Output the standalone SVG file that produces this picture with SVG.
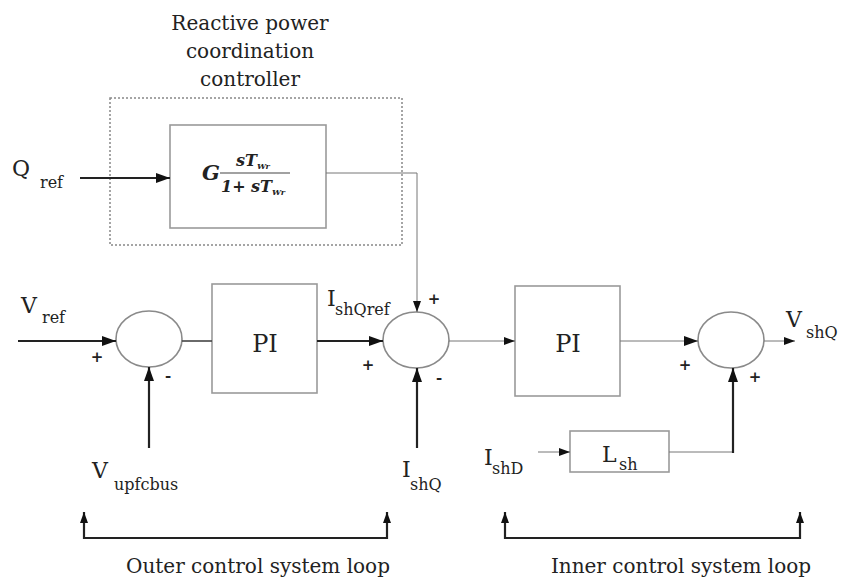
<svg xmlns="http://www.w3.org/2000/svg" width="843" height="581" viewBox="0 0 843 581">
<style>
text{fill:#222;font-family:"DejaVu Serif",serif}
.t{font-size:20px}
.main{font-size:22px}
.sub{font-size:16px}
.pi{font-size:24px;text-anchor:middle}
.sign{font-size:15px;text-anchor:middle;dominant-baseline:central;font-weight:bold}
.box{fill:#fff;stroke:#9a9a9a;stroke-width:1.6}
.sum{fill:#fff;stroke:#8a8a8a;stroke-width:1.6}
.dash{fill:none;stroke:#888;stroke-width:1.5;stroke-dasharray:2 2}
.thick{fill:none;stroke:#222;stroke-width:2.2}
.med{fill:none;stroke:#444;stroke-width:1.6}
.thin{fill:none;stroke:#777;stroke-width:1}
.eq{font-style:italic;font-weight:bold}
</style>
<defs>
<marker id="ah" markerUnits="userSpaceOnUse" markerWidth="14" markerHeight="10" refX="14" refY="5" orient="auto">
<path d="M0,0 L14,5 L0,10 z" fill="#111"/>
</marker>
<marker id="ahs" markerUnits="userSpaceOnUse" markerWidth="11" markerHeight="8" refX="11" refY="4" orient="auto">
<path d="M0,0 L11,4 L0,8 z" fill="#111"/>
</marker>
</defs>
<rect width="843" height="581" fill="#fff"/>

<g id="title">
<text class="t" x="250" y="30" text-anchor="middle">Reactive power</text>
<text class="t" x="250" y="58" text-anchor="middle">coordination</text>
<text class="t" x="250" y="86" text-anchor="middle">controller</text>
</g>

<g id="coordination-controller">
<rect class="dash" x="110" y="98" width="292" height="147"/>
<rect class="box" x="170" y="125" width="156" height="103"/>
<text class="eq" x="202" y="180" font-size="21">G</text>
<line x1="220" y1="173" x2="290" y2="173" stroke="#444" stroke-width="1.2"/>
<text class="eq" x="236" y="166" font-size="16">sT<tspan font-size="8" dy="3">Wr</tspan></text>
<text class="eq" x="221" y="192" font-size="16">1+ sT<tspan font-size="8" dy="3">Wr</tspan></text>
</g>

<g id="sum1"><ellipse class="sum" cx="149" cy="339" rx="33" ry="28"/></g>
<g id="pi1"><rect class="box" x="212" y="284" width="105" height="109"/><text class="pi" x="265" y="352">PI</text></g>
<g id="sum2"><ellipse class="sum" cx="416" cy="340" rx="33" ry="28"/></g>
<g id="pi2"><rect class="box" x="515" y="286" width="105" height="110"/><text class="pi" x="568" y="352">PI</text></g>
<g id="sum3"><ellipse class="sum" cx="731" cy="340" rx="33" ry="28"/></g>
<g id="lsh"><rect class="box" x="570" y="431" width="99" height="41"/><text class="main" x="602" y="462">L<tspan class="sub" x="619" y="470">sh</tspan></text></g>

<g id="connectors">
<line class="thick" x1="80" y1="178" x2="170" y2="178" marker-end="url(#ah)"/>
<polyline class="thin" points="326,173 417,173 417,312" marker-end="url(#ahs)"/>
<line class="thick" x1="18" y1="341" x2="116" y2="341" marker-end="url(#ah)"/>
<line class="thick" x1="149" y1="448" x2="149" y2="367" marker-end="url(#ah)"/>
<line class="med" x1="182" y1="341" x2="212" y2="341"/>
<line class="thick" x1="317" y1="341" x2="383" y2="341" marker-end="url(#ah)"/>
<line class="thick" x1="417" y1="448" x2="417" y2="368" marker-end="url(#ah)"/>
<line class="thin" x1="449" y1="341" x2="515" y2="341" marker-end="url(#ahs)"/>
<line class="thin" x1="620" y1="341" x2="698" y2="341" marker-end="url(#ah)"/>
<line class="thin" x1="764" y1="341" x2="795" y2="341" marker-end="url(#ahs)"/>
<line class="thin" x1="538" y1="452" x2="570" y2="452" marker-end="url(#ahs)"/>
<polyline class="thin" points="669,452 733,452"/>
<line class="thick" x1="733" y1="453" x2="733" y2="368" marker-end="url(#ah)"/>
</g>

<g id="signs">
<text class="sign" x="97" y="357">+</text>
<text class="sign" x="168" y="376">-</text>
<text class="sign" x="368" y="365">+</text>
<text class="sign" x="434" y="299">+</text>
<text class="sign" x="439" y="378">-</text>
<text class="sign" x="685" y="365">+</text>
<text class="sign" x="755" y="377">+</text>
</g>

<g id="labels">
<text class="main" x="12" y="176">Q<tspan class="sub" x="40" y="188">ref</tspan></text>
<text class="main" x="21" y="313">V<tspan class="sub" x="42" y="323">ref</tspan></text>
<text class="main" x="327" y="306">I<tspan class="sub" x="335" y="315">shQref</tspan></text>
<text class="main" x="92" y="478">V<tspan class="sub" x="114" y="490">upfcbus</tspan></text>
<text class="main" x="402" y="477">I<tspan class="sub" x="410" y="490">shQ</tspan></text>
<text class="main" x="484" y="465">I<tspan class="sub" x="492" y="474">shD</tspan></text>
<text class="main" x="786" y="327">V<tspan class="sub" x="806" y="338">shQ</tspan></text>
</g>

<g id="outer-loop">
<polyline class="thick" points="84,538 387,538"/>
<line class="thick" x1="84" y1="539" x2="84" y2="512" marker-end="url(#ahs)"/>
<line class="thick" x1="387" y1="539" x2="387" y2="512" marker-end="url(#ahs)"/>
<text class="t" x="258" y="573" text-anchor="middle">Outer control system loop</text>
</g>
<g id="inner-loop">
<polyline class="thick" points="505,538 800,538"/>
<line class="thick" x1="505" y1="539" x2="505" y2="512" marker-end="url(#ahs)"/>
<line class="thick" x1="800" y1="539" x2="800" y2="512" marker-end="url(#ahs)"/>
<text class="t" x="681" y="573" text-anchor="middle">Inner control system loop</text>
</g>
</svg>
